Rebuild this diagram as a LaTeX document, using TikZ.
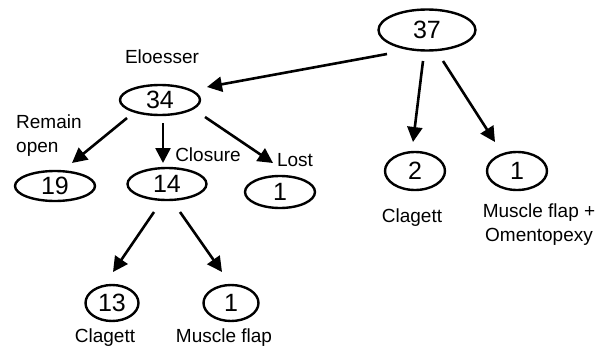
\documentclass[tikz,border=0pt]{standalone}
\usepackage{fontspec}
\setmainfont{Liberation Sans}
\newfontfamily\lblfont{Liberation Sans}
\usetikzlibrary{shapes.geometric,arrows.meta,calc}
\begin{document}
\begin{tikzpicture}[x=1pt,y=-1pt,
  num/.style={draw,ellipse,line width=2.4pt,inner sep=0pt,font=\lblfont\fontsize{25}{28}\selectfont},
  lbl/.style={font=\lblfont\fontsize{19}{24}\selectfont,inner sep=0pt},
  arr/.style={line width=2.6pt,-{Triangle[length=15pt,width=15pt]}}]
\useasboundingbox (0,0) rectangle (603,351);
\node[num,minimum width=97pt,minimum height=41pt] (n37) at (427,30) {37};
\node[num,minimum width=80pt,minimum height=30pt] (n34) at (160,100) {34};
\node[num,minimum width=80pt,minimum height=30pt] (n19) at (55,186) {19};
\node[num,minimum width=79pt,minimum height=32pt] (n14) at (167,184) {14};
\node[num,minimum width=70pt,minimum height=32pt] (nL) at (280,192) {1};
\node[num,minimum width=60pt,minimum height=38pt] (n2) at (415,171) {2};
\node[num,minimum width=60pt,minimum height=38pt] (nR) at (517,171) {1};
\node[num,minimum width=53pt,minimum height=36pt] (n13) at (112,303) {13};
\node[num,minimum width=55pt,minimum height=36pt] (nM) at (231,303) {1};
\node[lbl] (eloesser) at (162,57) {Eloesser};
\node[lbl,align=left,anchor=west] (remain) at (16,136) {Remain\\open};
\node[lbl] (closure) at (208,155) {Closure};
\node[lbl] (lost) at (295,160) {Lost};
\node[lbl] (clag1) at (412,218) {Clagett};
\node[lbl,align=center] (mfo) at (539,225) {Muscle flap +\\Omentopexy};
\node[lbl] (clag2) at (105,338) {Clagett};
\node[lbl] (mf) at (224,338) {Muscle flap};
\draw[arr] ($(n37)+(-40,24)$) -- ($(n34)+(47,-13)$);
\draw[arr] ($(n37)+(-4,31)$) -- ($(n2)+(-2,-29)$);
\draw[arr] ($(n37)+(16,31)$) -- ($(nR)+(-22,-29)$);
\draw[arr] ($(n34)+(-33,18)$) -- ($(n19)+(17,-23)$);
\draw[arr] ($(n34)+(3,23)$) -- ($(n14)+(-4,-21)$);
\draw[arr] ($(n34)+(45,17)$) -- ($(nL)+(-7,-29)$);
\draw[arr] ($(n14)+(-13,28)$) -- ($(n13)+(1,-31)$);
\draw[arr] ($(n14)+(13,28)$) -- ($(nM)+(-9,-31)$);
\end{tikzpicture}
\end{document}
